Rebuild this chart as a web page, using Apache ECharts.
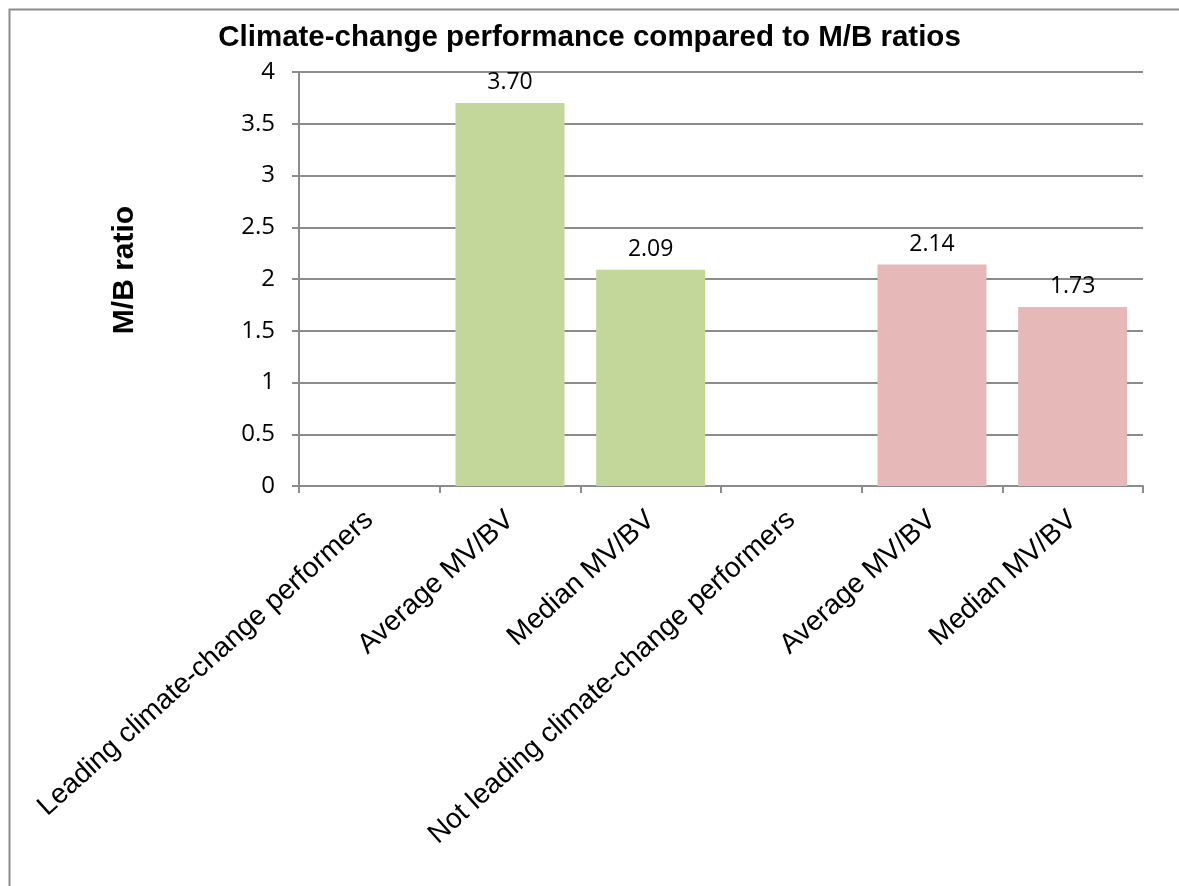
<!DOCTYPE html>
<html>
<head>
<meta charset="utf-8">
<script src="https://cdn.jsdelivr.net/npm/echarts@6/dist/echarts.min.js"></script>
<style>
  html, body { margin: 0; padding: 0; background: #fff; }
  #chart { width: 1179px; height: 886px; }
</style>
</head>
<body>
<div id="chart"></div>
<script>
// Category labels along the x axis (group headers have no bar)
const categories = [
  'Leading climate-change performers',
  'Average MV/BV',
  'Median MV/BV',
  'Not leading climate-change performers',
  'Average MV/BV',
  'Median MV/BV'
];
// M/B ratio per category
const values = [null, 3.70, 2.09, null, 2.14, 1.73];
// Bar fill per category: green for leaders, pink for non-leaders
const barColors = ['#c4d79b', '#c4d79b', '#c4d79b', '#e6b8b7', '#e6b8b7', '#e6b8b7'];
const yTicks = { min: 0, max: 4, interval: 0.5 };

const chart = echarts.init(document.getElementById('chart'));
const gridColor = '#8c8c8c';

chart.setOption({
  animation: false,
  backgroundColor: '#fff',
  title: {
    text: 'Climate-change performance compared to M/B ratios',
    left: 'center',
    top: 18,
    textStyle: { fontFamily: 'Liberation Sans, Arial, sans-serif', fontWeight: 'bold', fontSize: 29.5, color: '#000' }
  },
  graphic: [{
    type: 'rect',
    left: 7, top: 7,
    shape: { width: 1300, height: 1000 },
    style: { fill: 'none', stroke: '#8c8c8c', lineWidth: 2 },
    silent: true,
    z: -1
  }],
  grid: { left: 299, right: 36, top: 72, bottom: 400, containLabel: false },
  xAxis: {
    type: 'category',
    data: categories,
    boundaryGap: true,
    axisLine: { lineStyle: { color: gridColor, width: 2 } },
    axisTick: { show: true, length: 7, alignWithLabel: false, lineStyle: { color: gridColor, width: 2 } },
    axisLabel: {
      interval: 0,
      rotate: 42,
      margin: 30,
      fontFamily: 'Liberation Sans, Arial, sans-serif',
      fontSize: 28,
      color: '#000'
    }
  },
  yAxis: {
    type: 'value',
    min: yTicks.min,
    max: yTicks.max,
    interval: yTicks.interval,
    name: 'M/B ratio',
    nameLocation: 'middle',
    nameGap: 159,
    nameTextStyle: {
      fontFamily: 'Liberation Sans, Arial, sans-serif',
      fontWeight: 'bold',
      fontSize: 30,
      color: '#000',
      padding: [0, 0, 0, 18]
    },
    axisLine: { show: true, lineStyle: { color: gridColor, width: 2 } },
    axisTick: { show: true, length: 7, lineStyle: { color: gridColor, width: 2 } },
    splitLine: { show: true, lineStyle: { color: gridColor, width: 2 } },
    axisLabel: {
      margin: 24,
      fontFamily: 'Open Sans, Noto Sans, sans-serif',
      fontSize: 24,
      color: '#000'
    }
  },
  series: [{
    type: 'bar',
    barWidth: 109,
    data: values.map((v, i) => ({ value: v, itemStyle: { color: barColors[i] } })),
    label: {
      show: true,
      position: 'top',
      distance: 9,
      formatter: p => (p.value == null ? '' : p.value.toFixed(2)),
      fontFamily: 'Open Sans, Noto Sans, sans-serif',
      fontSize: 23,
      color: '#000'
    }
  }]
});
</script>
</body>
</html>
